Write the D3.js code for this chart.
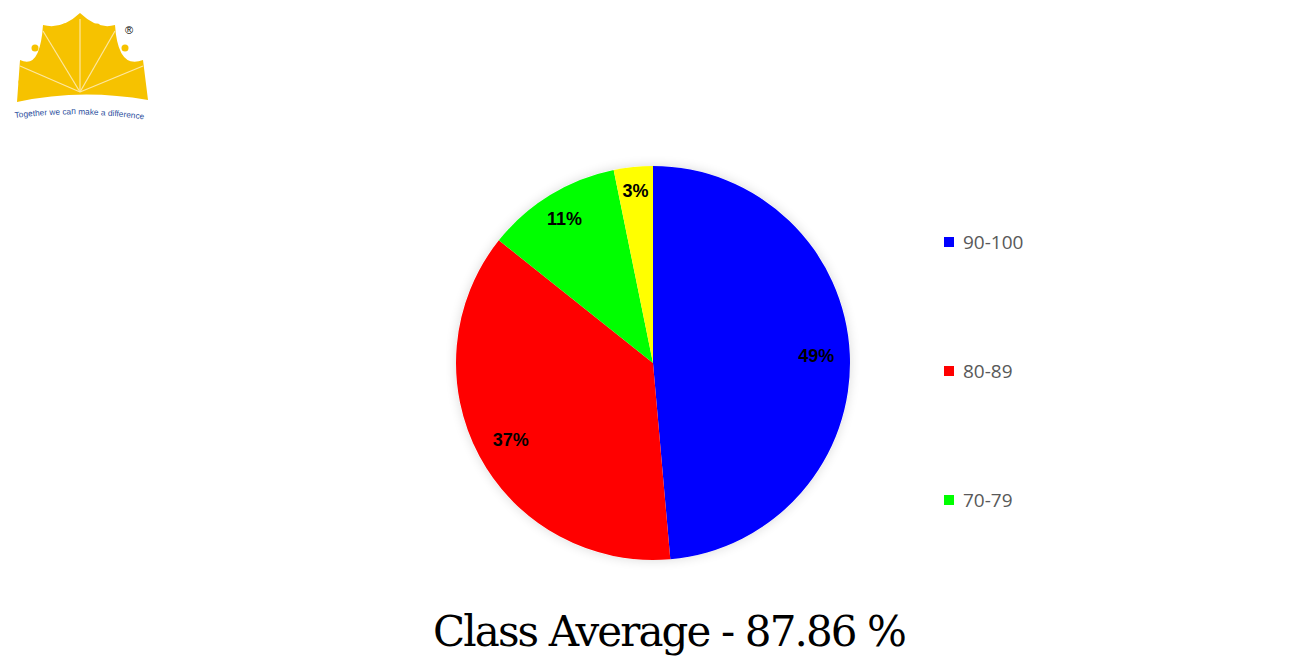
<!DOCTYPE html>
<html><head><meta charset="utf-8">
<script src="https://cdn.jsdelivr.net/npm/d3@7"></script>
<style>body{margin:0;background:#fff}</style></head>
<body><svg id="c" width="1310" height="666"></svg>
<script>
const categories = ["90-100","80-89","70-79","60-69"];
const values = [48.6,37.1,11.1,3.2];
const valueLabels = ["49%","37%","11%","3%"];
const colors = ["#0000ff","#ff0000","#00ff00","#ffff00"];
const legendItems = ["90-100","80-89","70-79"];
const title = "Class Average - 87.86 %";

const svg = d3.select("#c");
const defs = svg.append("defs");
const f = defs.append("filter").attr("id","sh").attr("x","-20%").attr("y","-20%").attr("width","140%").attr("height","140%");
f.append("feGaussianBlur").attr("in","SourceAlpha").attr("stdDeviation",6);
f.append("feComponentTransfer").append("feFuncA").attr("type","linear").attr("slope",0.15);
const m = f.append("feMerge"); m.append("feMergeNode"); m.append("feMergeNode").attr("in","SourceGraphic");

// logo
const lg = svg.append("g");
lg.append("path").attr("d","M17,102 L20,60 Q40,70 43,25 Q62,30 80,13 Q98,30 115,25 Q118,70 143,60 L148,100 Q80,88 17,102 Z").attr("fill","#f6c200");
[[20,60],[43,25],[80,13],[115,25],[143,60]].forEach(p=>lg.append("line").attr("x1",80).attr("y1",92).attr("x2",p[0]).attr("y2",p[1]+6).attr("stroke","#fde7a0").attr("stroke-width",1.2));
[[22,82],[65,27],[97,27],[125,48],[137,82],[35,48]].forEach(p=>lg.append("circle").attr("cx",p[0]).attr("cy",p[1]).attr("r",3.5).attr("fill","#f6c200"));
lg.append("text").attr("x",125).attr("y",34).attr("font-size",11).attr("font-family","Liberation Sans").text("®");
defs.append("path").attr("id","tp").attr("d","M15,118 Q80,110 148,120");
lg.append("text").attr("font-size",8.3).attr("fill","#2d4f9e").attr("font-family","Liberation Sans")
  .append("textPath").attr("href","#tp").text("Together we can make a difference");

// pie
const cx=653, cy=363, r=197;
const g = svg.append("g").attr("transform",`translate(${cx},${cy})`);
const pie = d3.pie().sort(null).value(d=>d)(values);
const arc = d3.arc().innerRadius(0).outerRadius(r);
g.append("circle").attr("r",r).attr("fill","#fff").attr("filter","url(#sh)");
g.selectAll("path.s").data(pie).join("path").attr("class","s").attr("d",arc).attr("fill",(d,i)=>colors[i]);
const lr = [0.83,0.82,0.86,0.88];
g.selectAll("text.l").data(pie).join("text").attr("class","l")
 .attr("transform",(d,i)=>{const a=(d.startAngle+d.endAngle)/2, rr=r*lr[i]; return `translate(${Math.sin(a)*rr},${-Math.cos(a)*rr})`;})
 .attr("text-anchor","middle").attr("dy","0.35em").attr("font-family","Liberation Sans").attr("font-weight","bold")
 .attr("font-size",18).text((d,i)=>valueLabels[i]);

// legend
const y0 = d3.scalePoint().domain(legendItems).range([242,500]);
const leg = svg.append("g");
legendItems.forEach((k,i)=>{
  leg.append("rect").attr("x",944).attr("y",y0(k)-5).attr("width",10).attr("height",10).attr("fill",colors[i]);
  leg.append("text").attr("x",963).attr("y",y0(k)).attr("dy","0.35em").attr("font-family","Open Sans").attr("font-size",19).attr("fill","#595959").text(k);
});

svg.append("text").attr("x",670).attr("y",646).attr("text-anchor","middle").attr("font-family","DejaVu Serif").attr("font-size",42).attr("fill","#000").attr("textLength",474).text(title);
</script></body></html>
